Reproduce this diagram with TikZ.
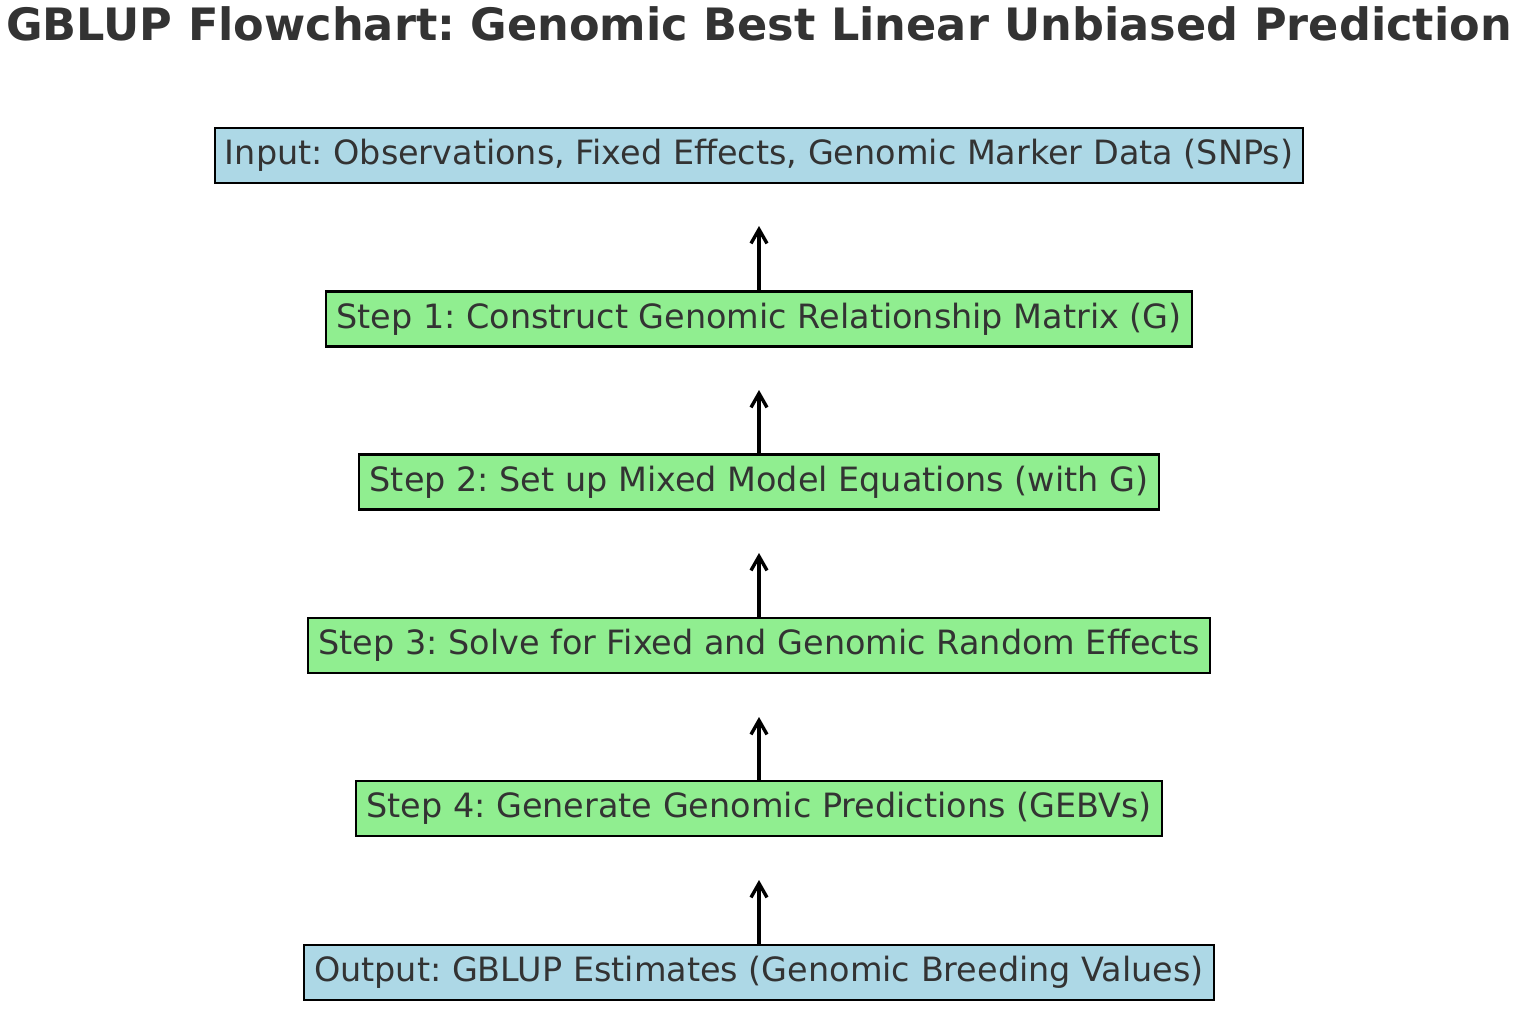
\documentclass[tikz,border=0pt]{standalone}
\usepackage{fontspec}
\setmainfont{DejaVu Sans}
\usetikzlibrary{arrows.meta}
\frenchspacing
\definecolor{txt}{HTML}{333333}
\definecolor{lblue}{HTML}{ADD8E6}
\definecolor{lgreen}{HTML}{90EE90}
\tikzset{
  stepbox/.style={draw=black, line width=1.4pt, fill=lgreen, text=txt, inner sep=0pt,
    minimum height=27.5pt, font=\fontsize{16.72}{19}\selectfont},
  iobox/.style={stepbox, fill=lblue},
  flow/.style={draw=black, line width=1.7pt, -{Straight Barb[length=7pt,width=8pt,line width=1.7pt]}}
}
\begin{document}
\begin{tikzpicture}[x=0.5pt,y=-0.5pt]
\useasboundingbox (0,0) rectangle (1528,1023);
\node[text=txt, font=\bfseries\fontsize{22.3}{26}\selectfont] (title) at (759,24) {GBLUP Flowchart: Genomic Best Linear Unbiased Prediction};
\node[iobox, minimum width=544pt] (in) at (759,155.5) {Input: Observations, Fixed Effects, Genomic Marker Data (SNPs)};
\node[stepbox, minimum width=433pt] (s1) at (759,319) {Step 1: Construct Genomic Relationship Matrix (G)};
\node[stepbox, minimum width=400pt] (s2) at (759,482) {Step 2: Set up Mixed Model Equations (with G)};
\node[stepbox, minimum width=451pt] (s3) at (759,645.5) {Step 3: Solve for Fixed and Genomic Random Effects};
\node[stepbox, minimum width=403pt] (s4) at (759,808.5) {Step 4: Generate Genomic Predictions (GEBVs)};
\node[iobox, minimum width=455pt] (out) at (759,972.5) {Output: GBLUP Estimates (Genomic Breeding Values)};
\coordinate (e1) at (759,226);
\coordinate (e2) at (759,390);
\coordinate (e3) at (759,553);
\coordinate (e4) at (759,717);
\coordinate (e5) at (759,880);
\draw[flow] (s1.north) -- (e1);
\draw[flow] (s2.north) -- (e2);
\draw[flow] (s3.north) -- (e3);
\draw[flow] (s4.north) -- (e4);
\draw[flow] (out.north) -- (e5);
\end{tikzpicture}
\end{document}
